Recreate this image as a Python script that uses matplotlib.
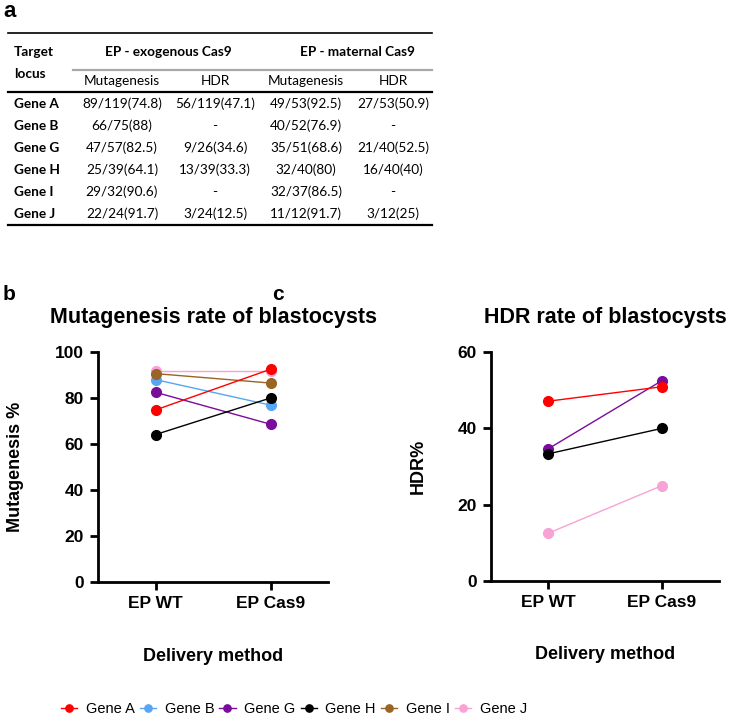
import matplotlib.pyplot as plt
from matplotlib.lines import Line2D

# Donnees du tableau (panneau a)
genes = ['Gene A', 'Gene B', 'Gene G', 'Gene H', 'Gene I', 'Gene J']
exo_mut = ['89/119(74.8)', '66/75(88)', '47/57(82.5)', '25/39(64.1)', '29/32(90.6)', '22/24(91.7)']
exo_hdr = ['56/119(47.1)', '-', '9/26(34.6)', '13/39(33.3)', '-', '3/24(12.5)']
mat_mut = ['49/53(92.5)', '40/52(76.9)', '35/51(68.6)', '32/40(80)', '32/37(86.5)', '11/12(91.7)']
mat_hdr = ['27/53(50.9)', '-', '21/40(52.5)', '16/40(40)', '-', '3/12(25)']

# Donnees des graphiques (panneaux b et c)
methods = ['EP WT', 'EP Cas9']
colors = ['#ff0000', '#55a6f5', '#7a0c9c', '#000000', '#9a6424', '#f7a3d6']
mut_wt = [74.8, 88, 82.5, 64.1, 90.6, 91.7]
mut_cas9 = [92.5, 76.9, 68.6, 80, 86.5, 91.7]
hdr_genes = ['Gene A', 'Gene G', 'Gene H', 'Gene J']
hdr_wt = [47.1, 34.6, 33.3, 12.5]
hdr_cas9 = [50.9, 52.5, 40, 25]

# ordre de dessin (J en dessous, A au-dessus)
zorders = {'Gene A': 8, 'Gene B': 4, 'Gene G': 5, 'Gene H': 6, 'Gene I': 7, 'Gene J': 3}

W, H = 749, 718
fig = plt.figure(figsize=(W / 100, H / 100), dpi=100)


def fx(px):
    return px / W


def fy(py):
    return 1 - py / H


def hline(x0, x1, y, lw, color='black'):
    fig.add_artist(Line2D([fx(x0), fx(x1)], [fy(y), fy(y)], lw=lw, color=color,
                          transform=fig.transFigure))


# ---- panneau a : tableau ----
tfont = 'Lato'
fs = 9.8
fig.text(fx(3), fy(1), 'a', fontsize=16, fontweight='bold', family='Liberation Sans', va='top')
hline(8, 432, 33, 1.2)
hline(73, 432, 70, 1.6, color='#a8a8a8')
hline(8, 432, 92, 1.6)
hline(8, 432, 225, 1.6)

fig.text(fx(14), fy(52), 'Target', fontsize=fs, fontweight='bold', family=tfont, va='center')
fig.text(fx(14), fy(74), 'locus', fontsize=fs, fontweight='bold', family=tfont, va='center')
fig.text(fx(168), fy(52), 'EP - exogenous Cas9', fontsize=fs, fontweight='bold', family=tfont,
         ha='center', va='center')
fig.text(fx(357), fy(52), 'EP - maternal Cas9', fontsize=fs, fontweight='bold', family=tfont,
         ha='center', va='center')

col_x = [122, 215, 306, 393]
sub_hdr = ['Mutagenesis', 'HDR', 'Mutagenesis', 'HDR']
for x, s in zip(col_x, sub_hdr):
    fig.text(fx(x), fy(81), s, fontsize=fs, family=tfont, ha='center', va='center')

row_y = [104, 126, 148, 170, 192, 214]
for i, g in enumerate(genes):
    y = row_y[i]
    fig.text(fx(14), fy(y), g, fontsize=fs, fontweight='bold', family=tfont, va='center')
    for x, col in zip(col_x, [exo_mut, exo_hdr, mat_mut, mat_hdr]):
        fig.text(fx(x), fy(y), col[i], fontsize=fs, family=tfont, ha='center', va='center')

# ---- panneaux b et c ----
plt.rcParams['font.family'] = 'Liberation Sans'

fig.text(fx(3), fy(300), 'b', fontsize=15, fontweight='bold', va='baseline')
fig.text(fx(272), fy(300), 'c', fontsize=15, fontweight='bold', va='baseline')

ax1 = fig.add_axes([fx(98), fy(582), fx(328) - fx(98), fy(352) - fy(582)])
ax2 = fig.add_axes([fx(491), fy(581), fx(719) - fx(491), fy(352) - fy(581)])

for i, g in enumerate(genes):
    ax1.plot([0, 1], [mut_wt[i], mut_cas9[i]], color=colors[i], lw=1, marker='o',
             markersize=7, zorder=zorders[g], label=g, clip_on=False)

for i, g in enumerate(hdr_genes):
    c = colors[genes.index(g)]
    ax2.plot([0, 1], [hdr_wt[i], hdr_cas9[i]], color=c, lw=1, marker='o',
             markersize=7, zorder=zorders[g], clip_on=False)

ax1.set_ylim(0, 100)
ax1.set_yticks([0, 20, 40, 60, 80, 100])
ax2.set_ylim(0, 60)
ax2.set_yticks([0, 20, 40, 60])

ax1.set_title('Mutagenesis rate of blastocysts', fontsize=15.5, fontweight='bold', pad=21)
ax2.set_title('HDR rate of blastocysts', fontsize=15.5, fontweight='bold', pad=21)
ax1.set_ylabel('Mutagenesis %', fontsize=13, fontweight='bold')
ax2.set_ylabel('HDR%', fontsize=13, fontweight='bold')
ax1.yaxis.set_label_coords(-0.322, 0.5)
ax2.yaxis.set_label_coords(-0.281, 0.5)

for ax in (ax1, ax2):
    ax.set_xlim(-0.5, 1.5)
    ax.set_xticks([0, 1])
    ax.set_xticklabels(methods)
    ax.set_xlabel('Delivery method', fontsize=13, fontweight='bold')
    ax.xaxis.set_label_coords(0.5, -0.285)
    ax.xaxis.label.set_va('top')
    for s in ['top', 'right']:
        ax.spines[s].set_visible(False)
    for s in ['left', 'bottom']:
        ax.spines[s].set_linewidth(2)
    ax.tick_params(width=2, length=6, labelsize=12.5, pad=4)
    for t in ax.get_xticklabels() + ax.get_yticklabels():
        t.set_fontweight('bold')

# Legende commune
handles, labels = ax1.get_legend_handles_labels()
fig.legend(handles, labels, loc='center', bbox_to_anchor=(fx(294), fy(709)), ncol=6,
           frameon=False, prop={'family': 'Liberation Sans', 'size': 10.5}, markerscale=0.75,
           handlelength=1.1, handletextpad=0.6, columnspacing=0.35, borderaxespad=0)

plt.savefig('out.png', dpi=100)
